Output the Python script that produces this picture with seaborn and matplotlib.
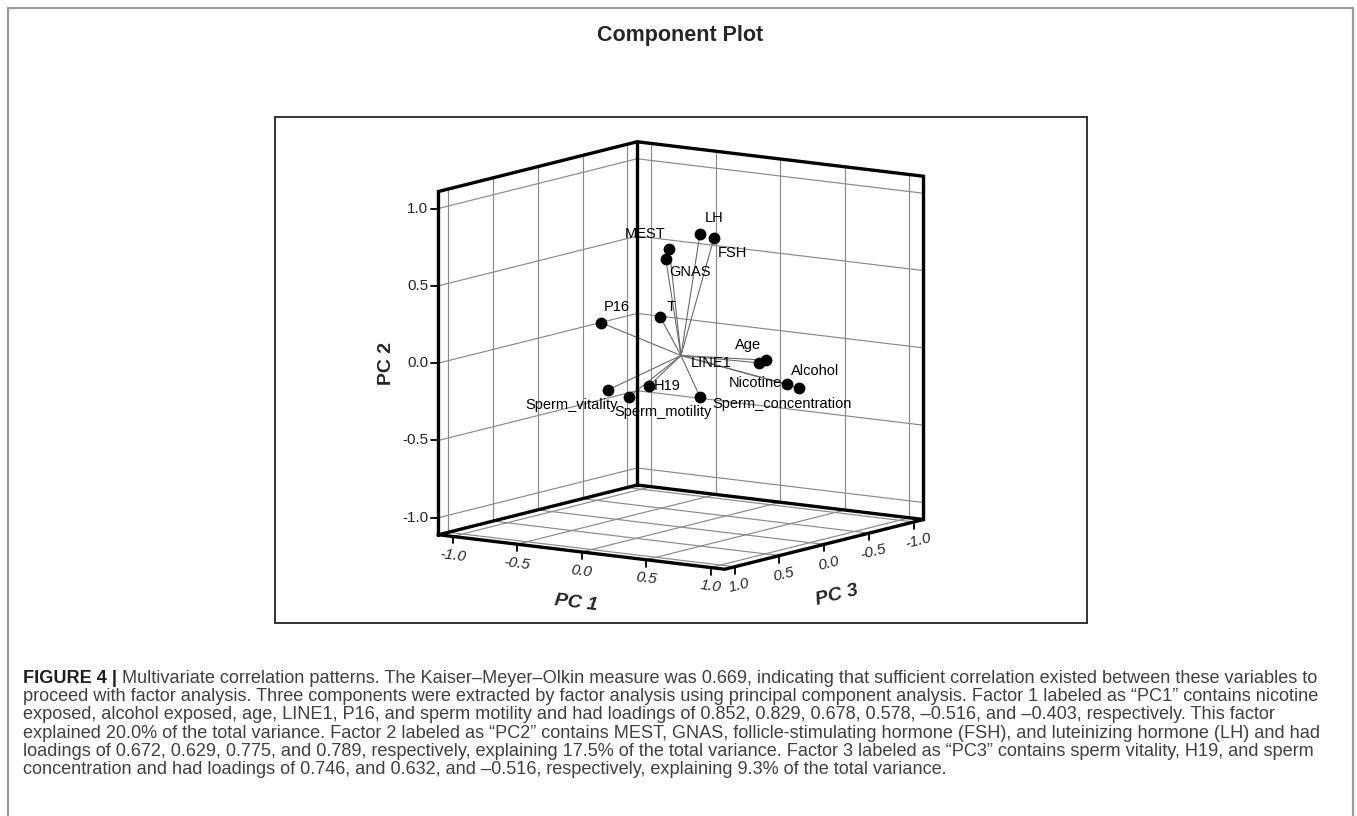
import numpy as np
import matplotlib
matplotlib.use("Agg")
import matplotlib.pyplot as plt
from matplotlib import font_manager
from matplotlib.lines import Line2D
import seaborn as sns

# component loadings (PC1, PC2, PC3)
variables = ["MEST", "GNAS", "LH", "FSH", "T", "P16", "Age", "LINE1", "Nicotine",
             "Alcohol", "H19", "Sperm_vitality", "Sperm_motility", "Sperm_concentration"]
pc1 = [-0.125, -0.072, 0.100, 0.214, -0.093, -0.516, 0.678, 0.578, 0.852,
       0.829, 0.189, -0.050, -0.403, -0.211]
pc2 = [0.672, 0.629, 0.789, 0.775, 0.256, 0.182, 0.042, 0.005, -0.095,
       -0.144, -0.087, -0.120, -0.308, -0.364]
pc3 = [-0.049, 0.067, -0.068, -0.061, 0.100, 0.150, 0.028, -0.038, 0.040,
       -0.121, 0.632, 0.746, 0.000, -0.516]
tick_values = [-1.0, -0.5, 0.0, 0.5, 1.0]
tick_labels = ["-1.0", "-0.5", "0.0", "0.5", "1.0"]
axis_titles = ["PC 1", "PC 2", "PC 3"]

caption_lead = "FIGURE 4 |"
caption_lines = [
    "Multivariate correlation patterns. The Kaiser\u2013Meyer\u2013Olkin measure was 0.669, indicating that sufficient correlation existed between these variables to",
    "proceed with factor analysis. Three components were extracted by factor analysis using principal component analysis. Factor 1 labeled as \u201cPC1\u201d contains nicotine",
    "exposed, alcohol exposed, age, LINE1, P16, and sperm motility and had loadings of 0.852, 0.829, 0.678, 0.578, \u20130.516, and \u20130.403, respectively. This factor",
    "explained 20.0% of the total variance. Factor 2 labeled as \u201cPC2\u201d contains MEST, GNAS, follicle-stimulating hormone (FSH), and luteinizing hormone (LH) and had",
    "loadings of 0.672, 0.629, 0.775, and 0.789, respectively, explaining 17.5% of the total variance. Factor 3 labeled as \u201cPC3\u201d contains sperm vitality, H19, and sperm",
    "concentration and had loadings of 0.746, and 0.632, and \u20130.516, respectively, explaining 9.3% of the total variance.",
]

# label placement (pixel offsets from the point, horizontal alignment)
label_pos = {
    "MEST": (-24, 15, "center"), "GNAS": (24, -13, "center"), "LH": (14, 16, "center"),
    "FSH": (18, -15, "center"), "T": (11, 10, "center"), "P16": (16, 16, "center"),
    "Age": (-18, 15, "center"), "LINE1": (-27, 0, "right"), "Nicotine": (-5, 1, "right"),
    "Alcohol": (16, 17, "center"), "H19": (5, 0, "left"), "Sperm_vitality": (10, -15, "right"),
    "Sperm_motility": (34, -15, "center"), "Sperm_concentration": (12, -7, "left"),
}

sns.set_theme(style="white")
plt.rcParams["font.family"] = ["Liberation Sans", "DejaVu Sans"]

W, H = 1357, 816
fig = plt.figure(figsize=(W / 100, H / 100), dpi=100)
fig.patch.set_facecolor("white")

# SPSS style orthographic view of the loading cube
AZIM = np.radians(34.75)
ELEV = np.radians(10.0)
L = 1.11
S = 157.0  # pixels per projected unit


def project(p1, p2, p3):
    p1, p2, p3 = (np.asarray(v, dtype=float) for v in (p1, p2, p3))
    x = p1 * np.cos(AZIM) - p3 * np.sin(AZIM)
    y = -(p1 * np.sin(AZIM) + p3 * np.cos(AZIM)) * np.sin(ELEV) + p2 * np.cos(ELEV)
    return x, y


fx0, fx1, fy0, fy1 = 275, 1087, 117, 623
ox, oy = 681, 355.5
ax = fig.add_axes([fx0 / W, 1 - fy1 / H, (fx1 - fx0) / W, (fy1 - fy0) / H])
for sp in ax.spines.values():
    sp.set_color("#333333")
    sp.set_linewidth(1.4)


def seg(a, b, **kw):
    x, y = project([a[0], b[0]], [a[1], b[1]], [a[2], b[2]])
    ax.plot(x, y, **kw)


grid_kw = dict(color="#8a8a8a", lw=0.85, zorder=1)
for t in tick_values:
    # left wall (PC1 = -L)
    seg((-L, -L, t), (-L, L, t), **grid_kw)
    seg((-L, t, L), (-L, t, -L), **grid_kw)
    # right wall (PC3 = -L)
    seg((t, -L, -L), (t, L, -L), **grid_kw)
    seg((-L, t, -L), (L, t, -L), **grid_kw)
    # floor (PC2 = -L)
    seg((t, -L, -L), (t, -L, L), **grid_kw)
    seg((-L, -L, t), (L, -L, t), **grid_kw)

edge_kw = dict(color="black", lw=2.4, zorder=3, solid_joinstyle="miter", solid_capstyle="projecting")
walls = [(-L, -L, L), (-L, L, L), (-L, L, -L), (L, L, -L), (L, -L, -L)]
floor = [(-L, -L, L), (L, -L, L), (L, -L, -L), (-L, -L, -L), (-L, -L, L)]
for path in (walls, floor):
    x, y = project(*zip(*path))
    ax.plot(x, y, **edge_kw)
seg((-L, -L, -L), (-L, L, -L), **edge_kw)

# spokes from the origin
px, py = project(pc1, pc2, pc3)
for xi, yi in zip(px, py):
    ax.plot([0, xi], [0, yi], color="#6a6a6a", lw=0.8, zorder=2)

sns.scatterplot(x=px, y=py, color="black", s=72, linewidth=0, ax=ax, zorder=5, legend=False)
ax.set_xlim(-(ox - fx0) / S, (fx1 - ox) / S)
ax.set_ylim(-(fy1 - oy) / S, (oy - fy0) / S)
ax.set_xticks([])
ax.set_yticks([])
ax.set_xlabel("")
ax.set_ylabel("")

for name, xi, yi in zip(variables, px, py):
    dx, dy, ha = label_pos[name]
    ax.annotate(name, xy=(xi, yi), xytext=(dx, dy), textcoords="offset pixels",
                ha=ha, va="center", fontsize=10.5, color="black", zorder=6)

# ticks and tick labels
tick_len = 7 / S
for t, lab in zip(tick_values, tick_labels):
    # PC2 on the left front edge
    x, y = project(-L, t, L)
    ax.plot([x - tick_len, x], [y, y], color="black", lw=1.3, zorder=3)
    ax.annotate(lab, xy=(x, y), xytext=(-10, 0), textcoords="offset pixels",
                ha="right", va="center", fontsize=11)
    # PC1 on the front left floor edge
    x, y = project(t, -L, L)
    ax.plot([x, x], [y, y - tick_len], color="black", lw=1.3, zorder=3)
    ax.annotate(lab, xy=(x, y), xytext=(0, -19), textcoords="offset pixels",
                ha="center", va="center", fontsize=11, style="italic", rotation=-7)
    # PC3 on the front right floor edge
    x, y = project(L, -L, t)
    ax.plot([x, x], [y, y - tick_len], color="black", lw=1.3, zorder=3)
    ax.annotate(lab, xy=(x, y), xytext=(4, -19), textcoords="offset pixels",
                ha="center", va="center", fontsize=11, style="italic", rotation=14)

title_kw = dict(textcoords="offset pixels", ha="center", va="center",
                fontsize=14, fontweight="bold")
ax.annotate(axis_titles[0], xy=project(0, -L, L), xytext=(-6, -51),
            style="italic", rotation=-7, **title_kw)
ax.annotate(axis_titles[1], xy=project(-L, 0, L), xytext=(-52, 0),
            rotation=90, **title_kw)
ax.annotate(axis_titles[2], xy=project(L, -L, 0), xytext=(13, -51),
            style="italic", rotation=14, **title_kw)

fig.text(680 / W, 1 - 35 / H, "Component Plot", ha="center", va="center",
         fontsize=15.5, fontweight="bold")

# outer light border of the figure panel
bkw = dict(color="#9c9c9c", lw=1.6, transform=fig.transFigure)
fig.add_artist(Line2D([8 / W, 8 / W], [0, 1 - 8 / H], **bkw))
fig.add_artist(Line2D([1353 / W, 1353 / W], [0, 1 - 8 / H], **bkw))
fig.add_artist(Line2D([8 / W, 1353 / W], [1 - 8 / H, 1 - 8 / H], **bkw))

# caption, sized to fill the line width
names = {f.name for f in font_manager.fontManager.ttflist}
cap_font = "Liberation Sans Narrow" if "Liberation Sans Narrow" in names else "Liberation Sans"
fig.canvas.draw()
renderer = fig.canvas.get_renderer()
probe = fig.text(0, 0, caption_lines[1], fontsize=10, family=cap_font)
cap_size = 10 * 1298 / probe.get_window_extent(renderer).width
probe.remove()

x0 = 23
lead = fig.text(x0 / W, 1 - 683 / H, caption_lead, fontsize=cap_size, family=cap_font,
                fontweight="bold", color="#1e1e1e", va="baseline", ha="left")
lead_w = lead.get_window_extent(renderer).width
for i, line in enumerate(caption_lines):
    xs = x0 + (lead_w + cap_size * 0.35 if i == 0 else 0)
    fig.text(xs / W, 1 - (683 + 18.2 * i) / H, line, fontsize=cap_size, family=cap_font,
             color="#404040", va="baseline", ha="left")

fig.savefig("out.png", dpi=100, facecolor="white")
